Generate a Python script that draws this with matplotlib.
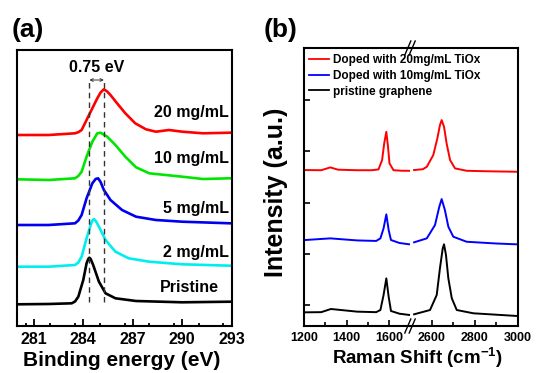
import matplotlib
matplotlib.use('Agg')
import matplotlib.pyplot as plt
from matplotlib.lines import Line2D
from matplotlib.ticker import MultipleLocator, FixedLocator

plt.rcParams['font.family'] = ['Liberation Sans', 'DejaVu Sans']
plt.rcParams['font.weight'] = 'bold'
plt.rcParams['mathtext.fontset'] = 'custom'
plt.rcParams['mathtext.rm'] = 'Liberation Sans:bold'
plt.rcParams['mathtext.default'] = 'rm'

# ---- (a) XPS C1s, binding energy (eV) vs intensity (a.u.)
xps_labels = ['20 mg/mL', '10 mg/mL', '5 mg/mL', '2 mg/mL', 'Pristine']
xps_colors = ['#ff0000', '#00e600', '#0000ee', '#00eeee', '#000000']

ev_20 = [280.0, 281.9, 283.5, 283.7, 283.9, 284.2, 284.55, 284.85, 285.05, 285.25, 285.45, 285.65, 286.05, 286.55, 287.15, 287.8, 288.4, 289.2, 290.0, 291.25, 292.9]
int_20 = [191, 191, 192.7, 193.8, 196, 206, 217.7, 227.7, 233.5, 236.7, 234.5, 231, 222.7, 212.7, 202.7, 196.7, 194.3, 196, 194.3, 192.7, 193.3]

ev_10 = [280.0, 281.9, 283.5, 283.7, 283.9, 284.2, 284.55, 284.85, 285.05, 285.45, 285.95, 286.55, 287.2, 288.0, 289.0, 290.0, 291.25, 292.9]
int_10 = [146.7, 146, 147.7, 150, 154.3, 169.3, 184.3, 192.7, 193.3, 189.3, 181, 169.3, 158.7, 152.7, 151, 149.3, 147, 147.7]

ev_5 = [280.0, 281.9, 283.5, 283.7, 283.9, 284.2, 284.55, 284.75, 284.9, 285.05, 285.25, 285.65, 286.35, 287.2, 288.4, 290.0, 292.9]
int_5 = [101, 101, 102.7, 105.5, 111, 127.7, 142.7, 147, 147.7, 144, 136, 126, 116, 109.3, 106, 104.3, 102.7]

ev_2 = [280.0, 281.9, 283.5, 283.7, 283.9, 284.2, 284.45, 284.55, 284.65, 284.78, 284.95, 285.35, 285.95, 286.75, 288.0, 290.0, 292.9]
int_2 = [59.3, 59.3, 61, 63.5, 69.3, 87.7, 101, 105.5, 107, 104.5, 99.3, 86, 74.3, 67.7, 64.3, 61.7, 60.3]

ev_0 = [280.0, 281.9, 283.3, 283.5, 283.7, 284.0, 284.2, 284.3, 284.37, 284.45, 284.6, 284.95, 285.35, 285.95, 287.2, 290.0, 292.9]
int_0 = [21.7, 22, 22.7, 24.5, 29.3, 46, 62.7, 67, 68.3, 67, 61, 44.3, 32.7, 27.7, 25, 23.7, 24.3]

xps_ev = [ev_20, ev_10, ev_5, ev_2, ev_0]
xps_int = [int_20, int_10, int_5, int_2, int_0]
xps_label_y = [213, 167, 118, 73, 38]
peak_pristine = 284.37
peak_20 = 285.25

# ---- (b) Raman spectra, two windows of the shift axis
raman_labels = ['Doped with 20mg/mL TiOx', 'Doped with 10mg/mL TiOx', 'pristine graphene']
raman_colors = ['#ff0000', '#0000ff', '#000000']

red_lo_x = [1205, 1280, 1323, 1360, 1450, 1520, 1551, 1568, 1578, 1588, 1596, 1603, 1622, 1660, 1698]
red_lo_y = [2633, 2630, 2685, 2640, 2630, 2630, 2646, 2828, 3153, 3380, 3087, 2763, 2630, 2620, 2619]
red_hi_x = [2519, 2560, 2578, 2608, 2627, 2639, 2647, 2658, 2670, 2686, 2709, 2763, 2850, 2995]
red_hi_y = [2633, 2650, 2697, 2925, 3251, 3510, 3608, 3477, 3153, 2828, 2666, 2619, 2610, 2600]

blue_lo_x = [1205, 1323, 1450, 1540, 1560, 1575, 1588, 1599, 1610, 1650, 1697]
blue_lo_y = [1268, 1300, 1260, 1250, 1300, 1496, 1769, 1463, 1268, 1210, 1184]
blue_hi_x = [2519, 2578, 2616, 2636, 2647, 2662, 2678, 2701, 2763, 2900, 2995]
blue_hi_y = [1223, 1300, 1560, 1917, 2067, 1853, 1527, 1332, 1234, 1200, 1184]

black_lo_x = [1205, 1280, 1326, 1450, 1540, 1560, 1575, 1588, 1599, 1610, 1650, 1698]
black_lo_y = [-143, -140, -78, -130, -140, -98, 195, 520, 162, -117, -170, -195]
black_hi_x = [2519, 2593, 2624, 2639, 2652, 2658, 2667, 2678, 2694, 2717, 2794, 2995]
black_hi_y = [-182, -98, 195, 716, 1106, 1184, 975, 520, 131, -98, -162, -214]

raman_lo = [(red_lo_x, red_lo_y), (blue_lo_x, blue_lo_y), (black_lo_x, black_lo_y)]
raman_hi = [(red_hi_x, red_hi_y), (blue_hi_x, blue_hi_y), (black_hi_x, black_hi_y)]

W, H = 536, 373
fig = plt.figure(figsize=(W / 100, H / 100), dpi=100)


def box(l, t, r, b):
    return [l / W, 1 - b / H, (r - l) / W, (b - t) / H]


# ---------------- panel (a)
ax = fig.add_axes(box(17.3, 50, 231.7, 326))
for x, y, c in zip(xps_ev, xps_int, xps_colors):
    ax.plot(x, y, color=c, lw=1.9, solid_joinstyle='round')
for lab, ly in zip(xps_labels, xps_label_y):
    xr = 292.25 if lab == 'Pristine' else 292.85
    ax.text(xr, ly, lab, ha='right', va='center', fontsize=11.5, fontweight='bold')
ax.vlines([peak_pristine, peak_20], 24, 244, colors='#333333', linestyles=(0, (4, 3)), lw=1.0)
ax.annotate('', xy=(peak_pristine, 246), xytext=(peak_20, 246),
            arrowprops=dict(arrowstyle='<->', lw=0.7, color='#333333', mutation_scale=5,
                            shrinkA=0, shrinkB=0))
ax.text((peak_pristine + peak_20) / 2, 259, '0.75 eV', ha='center', va='center',
        fontsize=11.5, fontweight='bold')
ax.set_xlim(280, 293)
ax.set_ylim(0, 276)
ax.xaxis.set_minor_locator(MultipleLocator(1.5))
ax.set_xticks([281, 284, 287, 290, 293])
ax.set_yticks([])
ax.tick_params(axis='x', which='major', direction='in', length=5, width=1.3, labelsize=11.5, pad=4)
ax.tick_params(axis='x', which='minor', direction='in', length=2.5, width=1.3)
for s in ax.spines.values():
    s.set_linewidth(1.5)
fig.text(122 / W, 1 - 361 / H, 'Binding energy (eV)', ha='center', va='center',
         fontsize=15, fontweight='bold')
fig.text(28 / W, 1 - 30 / H, '(a)', ha='center', va='center', fontsize=19, fontweight='bold')

# ---------------- panel (b), broken shift axis
axl = fig.add_axes(box(304.3, 48, 410, 326))
axr = fig.add_axes(box(410, 48, 517.7, 326))
axr.patch.set_visible(False)
for (x, y), c in zip(raman_lo, raman_colors):
    axl.plot(x, y, color=c, lw=1.4)
for (x, y), c in zip(raman_hi, raman_colors):
    axr.plot(x, y, color=c, lw=1.4)

axl.set_xlim(1200, 1700)
axr.set_xlim(2500, 3000)
for a in (axl, axr):
    a.set_ylim(-410, 5015)
    for s in a.spines.values():
        s.set_linewidth(1.5)
    a.tick_params(axis='x', which='major', direction='in', length=4, width=1.2, labelsize=9, pad=4)
    a.tick_params(axis='x', which='minor', direction='in', length=3, width=1.2)
axl.spines['right'].set_visible(False)
axr.spines['left'].set_visible(False)
axl.set_xticks([1200, 1400, 1600])
axl.xaxis.set_minor_locator(FixedLocator([1300, 1500]))
axr.set_xticks([2600, 2800, 3000])
axr.xaxis.set_minor_locator(FixedLocator([2700, 2900]))
axl.set_yticks([0, 1000, 2000, 3000, 4000])
axl.set_yticklabels([])
axl.tick_params(axis='y', direction='in', length=4, width=1.2)
axr.set_yticks([])

# break marks on the top and bottom spine
dx, dy = 3.0 / 106, 7.0 / 278
for yb in (0, 1):
    for off in (-2.2 / 106, 2.2 / 106):
        axl.plot([1 + off - dx, 1 + off + dx], [yb - dy, yb + dy], transform=axl.transAxes,
                 color='black', lw=1.0, clip_on=False)

handles = [Line2D([], [], color=c, lw=1.3) for c in raman_colors]
fig.legend(handles, raman_labels, loc='upper left', bbox_to_anchor=(309 / W, 1 - 54 / H),
           frameon=False, handlelength=1.7, handletextpad=0.3,
           labelspacing=0.32, borderpad=0, borderaxespad=0, prop={'weight': 'bold', 'size': 8.5})

fig.text(275.5 / W, 1 - 192 / H, 'Intensity (a.u.)', ha='center', va='center', rotation=90,
         fontsize=18, fontweight='bold')
fig.text(417 / W, 1 - 358 / H, 'Raman Shift (cm$^{-1}$)', ha='center', va='center',
         fontsize=13.5, fontweight='bold')
fig.text(281 / W, 1 - 30 / H, '(b)', ha='center', va='center', fontsize=19, fontweight='bold')

fig.savefig('out.png', dpi=100)
